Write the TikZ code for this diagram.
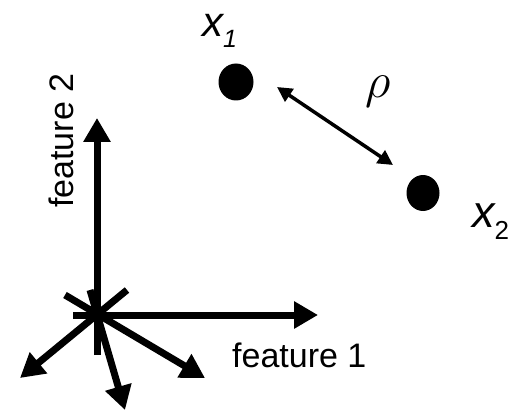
\RequirePackage{fix-cm}
\documentclass[tikz,border=0pt]{standalone}
\usepackage{fontspec}
\setmainfont{Liberation Sans}
\usetikzlibrary{arrows.meta,shapes.geometric}
\tikzset{
  bigarrow/.style={line width=7pt,-{Triangle[length=24pt,width=26pt]}},
  dot/.style={ellipse,fill=black,inner sep=0pt},
  dblarrow/.style={line width=3.5pt,{Triangle[length=15pt,width=15pt]}-{Triangle[length=15pt,width=15pt]}},
  lbl/.style={inner sep=0pt,font=\fontsize{34}{40}\selectfont}
}
\begin{document}
\begin{tikzpicture}[x=1pt,y=-1pt]
\useasboundingbox (0,0) rectangle (516,414);
% axes and directions
\coordinate (vbot) at (97,355);
\coordinate (vtop) at (97,118);
\coordinate (hleft) at (73,315);
\coordinate (hright) at (318,315);
\coordinate (d1s) at (65,295);
\coordinate (d1e) at (205,378);
\coordinate (d2s) at (127,290);
\coordinate (d2e) at (20,378);
\coordinate (d3s) at (90,290);
\coordinate (d3e) at (125,410);
\draw[bigarrow] (d1s) -- (d1e);
\draw[bigarrow] (d2s) -- (d2e);
\draw[bigarrow] (d3s) -- (d3e);
\draw[bigarrow] (vbot) -- (vtop);
\draw[bigarrow] (hleft) -- (hright);
% points
\node[dot,minimum width=35pt,minimum height=37pt] (p1) at (236,82) {};
\node[dot,minimum width=33pt,minimum height=36pt] (p2) at (423,193) {};
\coordinate (r1) at (277,87);
\coordinate (r2) at (393,165);
\draw[dblarrow] (r1) -- (r2);
% labels
\node[inner sep=0pt,anchor=base west,text height=23pt] (lx1) at (202,37)
  {\fontsize{42}{48}\selectfont\itshape x\raisebox{-11pt}{\fontsize{25}{30}\selectfont 1}};
\node[inner sep=0pt,anchor=base west,text height=24pt] (lx2) at (472,227)
  {\fontsize{45}{50}\selectfont\itshape x\raisebox{-12pt}{\fontsize{26}{30}\selectfont\upshape 2}};
\node[inner sep=0pt] (rho) at (378,92) {\fontsize{50}{60}\selectfont$\rho$};
\node[lbl,anchor=base west] (f1) at (232,367) {feature 1};
\node[lbl,anchor=base west,rotate=90] (f2) at (73,208) {feature 2};
\end{tikzpicture}
\end{document}
